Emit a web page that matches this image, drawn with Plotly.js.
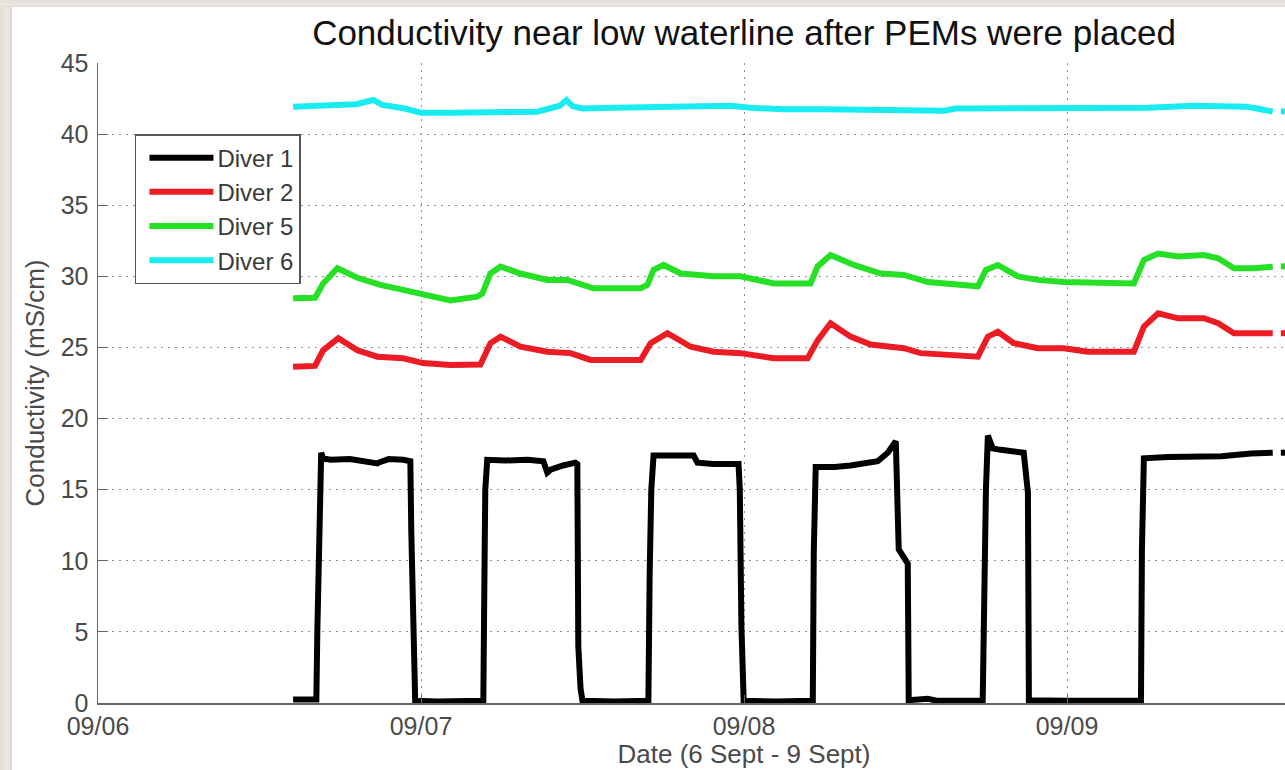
<!DOCTYPE html>
<html>
<head>
<meta charset="utf-8">
<script src="https://cdn.plot.ly/plotly-3.0.1.min.js"></script>
<style>
  html, body { margin: 0; padding: 0; overflow: hidden; background: #ffffff; width: 1285px; height: 770px; }
  #wrap { position: relative; width: 1285px; height: 770px; overflow: hidden; }
  #plot { position: absolute; left: 0; top: 0; width: 1400px; height: 770px; }
  .stone-left { position: absolute; left: 0; top: 0; width: 12px; height: 770px; background: linear-gradient(90deg, #e3ded6, #ece8e2 70%, #d9d5cf); z-index: 5; }
  .stone-top { position: absolute; left: 0; top: 0; width: 1285px; height: 7px; background: linear-gradient(180deg, #e3ded6, #ece8e2 70%, #dcd8d2); z-index: 5; }
</style>
</head>
<body>
<div id="wrap">
  <div id="plot"></div>
  <div class="stone-left"></div>
  <div class="stone-top"></div>
</div>
<script>
// Time in days after 09/06 00:00, conductivity in mS/cm
const dayTickVals = [0, 1, 2, 3, 4];
const dayTickText = ['09/06', '09/07', '09/08', '09/09', '09/10'];
const seriesNames = ['Diver 1', 'Diver 2', 'Diver 5', 'Diver 6'];

const diver1T = [0.604, 0.676, 0.679, 0.685, 0.691, 0.697, 0.72, 0.78, 0.83, 0.865, 0.874, 0.90, 0.945, 0.967, 0.970, 0.976, 0.982, 1.05, 1.12, 1.193, 1.196, 1.199, 1.205, 1.26, 1.33, 1.379, 1.391, 1.401, 1.44, 1.478, 1.484, 1.487, 1.494, 1.500, 1.60, 1.704, 1.708, 1.713, 1.720, 1.78, 1.844, 1.856, 1.906, 1.983, 1.987, 1.992, 1.999, 2.10, 2.213, 2.216, 2.219, 2.222, 2.28, 2.330, 2.414, 2.445, 2.470, 2.476, 2.479, 2.507, 2.510, 2.569, 2.60, 2.739, 2.742, 2.749, 2.755, 2.770, 2.795, 2.866, 2.879, 2.881, 2.882, 3.0, 3.229, 3.232, 3.238, 3.313, 3.424, 3.478, 3.570, 3.637, 3.65, 3.662, 3.70];
const diver1V = [0.25, 0.25, 5, 13, 17.6, 17.2, 17.1, 17.15, 17.0, 16.85, 16.95, 17.15, 17.1, 17.0, 12, 3, 0.15, 0.1, 0.1, 0.15, 8, 15, 17.1, 17.05, 17.1, 17.0, 16.2, 16.4, 16.7, 16.9, 16.8, 4, 1, 0.15, 0.1, 0.15, 9.2, 15, 17.4, 17.45, 17.4, 16.9, 16.8, 16.8, 15, 5.4, 0.15, 0.1, 0.15, 10.6, 15, 16.6, 16.6, 16.7, 17.0, 17.6, 18.4, 14.8, 10.8, 9.8, 0.2, 0.3, 0.15, 0.15, 7.9, 15, 18.8, 17.9, 17.8, 17.6, 14.8, 5, 0.2, 0.15, 0.15, 10.8, 17.2, 17.3, 17.3, 17.35, 17.55, 17.6, null, 17.6, 17.6];

const diver2T = [0.604, 0.672, 0.697, 0.744, 0.803, 0.865, 0.945, 1.007, 1.091, 1.184, 1.215, 1.246, 1.308, 1.391, 1.463, 1.525, 1.680, 1.711, 1.763, 1.835, 1.906, 1.989, 2.092, 2.197, 2.228, 2.268, 2.330, 2.392, 2.495, 2.547, 2.724, 2.755, 2.786, 2.835, 2.910, 2.990, 3.065, 3.207, 3.238, 3.282, 3.344, 3.424, 3.468, 3.517, 3.637, 3.65, 3.662, 3.70];
const diver2V = [23.65, 23.7, 24.8, 25.65, 24.8, 24.35, 24.24, 23.9, 23.77, 23.8, 25.3, 25.76, 25.05, 24.7, 24.6, 24.12, 24.12, 25.3, 26.0, 25.05, 24.7, 24.6, 24.24, 24.24, 25.5, 26.7, 25.76, 25.2, 24.95, 24.6, 24.35, 25.76, 26.1, 25.3, 24.95, 24.95, 24.7, 24.7, 26.46, 27.4, 27.05, 27.05, 26.7, 26.0, 26.0, null, 26.0, 26.0];

const diver5T = [0.604, 0.672, 0.697, 0.741, 0.803, 0.874, 0.945, 0.998, 1.091, 1.174, 1.190, 1.215, 1.246, 1.308, 1.391, 1.453, 1.534, 1.680, 1.701, 1.720, 1.751, 1.804, 1.906, 1.989, 2.092, 2.206, 2.228, 2.268, 2.340, 2.423, 2.495, 2.569, 2.724, 2.749, 2.786, 2.848, 2.910, 2.990, 3.114, 3.207, 3.238, 3.282, 3.344, 3.424, 3.468, 3.517, 3.579, 3.637, 3.65, 3.662, 3.70];
const diver5V = [28.46, 28.5, 29.5, 30.57, 29.9, 29.4, 29.05, 28.8, 28.3, 28.57, 28.8, 30.2, 30.68, 30.2, 29.75, 29.75, 29.16, 29.16, 29.4, 30.45, 30.8, 30.2, 30.0, 30.0, 29.5, 29.5, 30.7, 31.5, 30.8, 30.2, 30.1, 29.6, 29.3, 30.45, 30.8, 30.0, 29.75, 29.6, 29.5, 29.5, 31.15, 31.6, 31.4, 31.5, 31.27, 30.57, 30.57, 30.68, null, 30.7, 30.7];

const diver6T = [0.604, 0.75, 0.80, 0.852, 0.88, 0.95, 1.001, 1.10, 1.20, 1.30, 1.360, 1.43, 1.450, 1.47, 1.500, 1.60, 1.70, 1.835, 1.90, 1.958, 2.02, 2.120, 2.25, 2.40, 2.557, 2.62, 2.656, 2.80, 3.055, 3.155, 3.25, 3.393, 3.50, 3.554, 3.60, 3.637, 3.65, 3.662, 3.70];
const diver6V = [41.93, 42.0, 42.1, 42.4, 42.05, 41.8, 41.5, 41.5, 41.55, 41.6, 41.58, 42.0, 42.4, 41.95, 41.8, 41.85, 41.9, 41.93, 42.05, 42.0, 41.85, 41.75, 41.75, 41.7, 41.6, 41.65, 41.8, 41.8, 41.86, 41.8, 41.85, 42.0, 41.95, 41.93, 41.75, 41.58, null, 41.6, 41.6];

const seriesColors = ['#000000', '#ec1c24', '#26e026', '#18ecf0'];

const FONT = 'Liberation Sans, Arial, Helvetica, sans-serif';
const xs = [diver1T, diver2T, diver5T, diver6T];
const ys = [diver1V, diver2V, diver5V, diver6V];

const traces = seriesNames.map((name, i) => ({
  type: 'scatter',
  mode: 'lines',
  name: name,
  x: xs[i],
  y: ys[i],
  connectgaps: false,
  line: { color: seriesColors[i], width: 6 }
}));

const layout = {
  width: 1400,
  height: 770,
  margin: { l: 98, r: 10, t: 63, b: 67 },
  paper_bgcolor: '#ffffff',
  plot_bgcolor: '#ffffff',
  font: { family: FONT, size: 24, color: '#4a4a4a' },
  title: {
    text: 'Conductivity near low waterline after PEMs were placed',
    font: { family: FONT, size: 35, color: '#111111' },
    x: 0.5, xref: 'paper', xanchor: 'center',
    y: 0.958, yref: 'container', yanchor: 'middle'
  },
  xaxis: {
    range: [0, 4],
    tickmode: 'array',
    tickvals: dayTickVals,
    ticktext: dayTickText,
    ticks: 'inside', ticklen: 8, tickcolor: '#666666',
    showline: true, linecolor: '#666666', linewidth: 1.5,
    showgrid: true, gridcolor: '#8f8f8f', gridwidth: 1, griddash: '2px,5px',
    zeroline: false,
    tickfont: { family: FONT, size: 25, color: '#4a4a4a' },
    title: { text: 'Date (6 Sept - 9 Sept)', font: { family: FONT, size: 26, color: '#4a4a4a' }, standoff: 4 }
  },
  yaxis: {
    range: [0, 45],
    tickmode: 'linear', tick0: 0, dtick: 5,
    ticks: 'inside', ticklen: 10, tickcolor: '#666666',
    ticklabelstandoff: 3,
    showline: true, linecolor: '#666666', linewidth: 1.5,
    showgrid: true, gridcolor: '#8f8f8f', gridwidth: 1, griddash: '2px,5px',
    zeroline: false,
    tickfont: { family: FONT, size: 25, color: '#4a4a4a' },
    title: { text: 'Conductivity (mS/cm)', font: { family: FONT, size: 26, color: '#4a4a4a' }, standoff: 8 }
  },
  showlegend: true,
  legend: {
    x: 0.0286, y: 0.889, xanchor: 'left', yanchor: 'top',
    bgcolor: '#ffffff', bordercolor: '#555555', borderwidth: 1.5,
    font: { family: FONT, size: 24, color: '#3a3a3a' },
    itemwidth: 71, tracegroupgap: 0
  }
};

Plotly.newPlot('plot', traces, layout, { displayModeBar: false, staticPlot: true }).then(() => {
  document.querySelectorAll('#plot .legendlines path').forEach(p => p.setAttribute('d', 'M13,0h64'));
});
</script>
</body>
</html>
